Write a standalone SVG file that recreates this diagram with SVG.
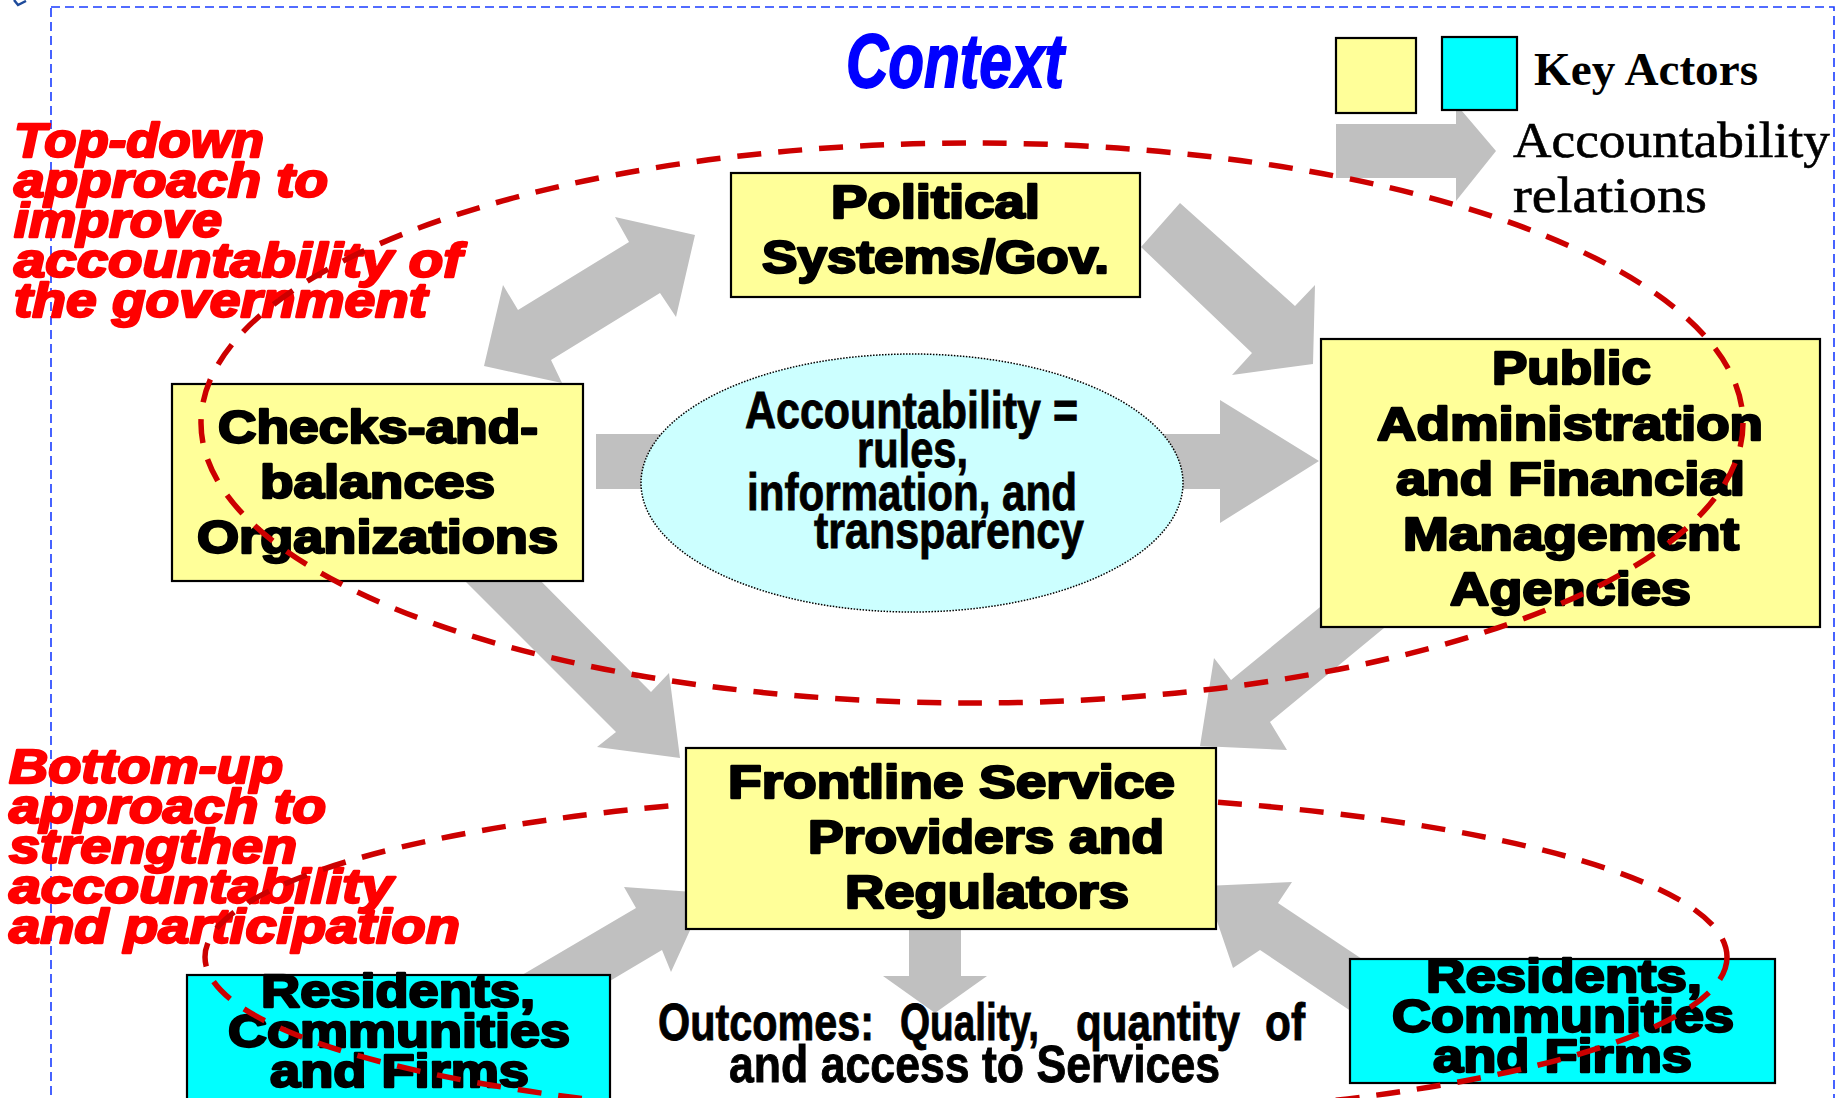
<svg xmlns="http://www.w3.org/2000/svg" width="1843" height="1098" viewBox="0 0 1843 1098">
<style>
.bg{fill:#fff}
.frame{fill:none;stroke:#1a3cff;stroke-width:1.6;stroke-dasharray:9 5}
.arrow{fill:#c0c0c0;stroke:none}
.box{stroke:#000;stroke-width:2.2}
.yel{fill:#ffff99}
.cya{fill:#00ffff}
.hv{font-family:"Liberation Sans",Arial,sans-serif;font-weight:bold;font-size:47px;fill:#000;stroke:#000;stroke-width:2.4;stroke-linejoin:round}
.rd{font-family:"Liberation Sans",Arial,sans-serif;font-weight:bold;font-style:italic;font-size:48px;fill:#ff0000;stroke:#ff0000;stroke-width:2.4;stroke-linejoin:round}
.cn{font-family:"Liberation Sans",Arial,sans-serif;font-weight:bold;font-size:52px;fill:#000;stroke:#000;stroke-width:0.9}
.sf{font-family:"Liberation Serif","Times New Roman",serif;fill:#000}
.loop{fill:none;stroke:#cc0000;stroke-width:5.5;stroke-dasharray:24 17}
</style>
<rect class="bg" x="0" y="0" width="1843" height="1098"/>
<polyline points="14,0 18,5 26,1" fill="none" stroke="#1e4b9b" stroke-width="2.5"/>
<rect class="frame" x="51" y="7" width="1783" height="1120"/>

<g id="title">
<text x="846" y="87" font-family="'Liberation Sans',Arial,sans-serif" font-weight="bold" font-style="italic" font-size="76" fill="#0000ff" stroke="#0000ff" stroke-width="1.8" textLength="218" lengthAdjust="spacingAndGlyphs">Context</text>
</g>

<g id="label-topdown">
<text class="rd" x="14" y="157" textLength="250" lengthAdjust="spacingAndGlyphs">Top-down</text>
<text class="rd" x="14" y="197" textLength="314" lengthAdjust="spacingAndGlyphs">approach to</text>
<text class="rd" x="14" y="237" textLength="208" lengthAdjust="spacingAndGlyphs">improve</text>
<text class="rd" x="14" y="277" textLength="448" lengthAdjust="spacingAndGlyphs">accountability of</text>
<text class="rd" x="14" y="317" textLength="413" lengthAdjust="spacingAndGlyphs">the government</text>
</g>

<g id="label-bottomup">
<text class="rd" x="9" y="783" textLength="274" lengthAdjust="spacingAndGlyphs">Bottom-up</text>
<text class="rd" x="9" y="823" textLength="317" lengthAdjust="spacingAndGlyphs">approach to</text>
<text class="rd" x="9" y="863" textLength="288" lengthAdjust="spacingAndGlyphs">strengthen</text>
<text class="rd" x="9" y="903" textLength="384" lengthAdjust="spacingAndGlyphs">accountability</text>
<text class="rd" x="9" y="943" textLength="451" lengthAdjust="spacingAndGlyphs">and participation</text>
</g>

<g id="connectors">
<polygon class="arrow" points="695,235 676,317 660,293 551,360 562,383 484,366 503,285 518,310 629,242 615,217"/>
<polygon class="arrow" points="1180,203 1295,306 1315,285 1313,364 1232,375 1252,353 1141,247"/>
<polygon class="arrow" points="596,434 1220,434 1220,400 1319,461 1220,523 1220,489 596,489"/>
<polygon class="arrow" points="444,560 520,560 651,692 669,673 680,758 597,747 616,732"/>
<polygon class="arrow" points="1347,585 1401,614 1270,722 1287,750 1200,746 1214,658 1231,680"/>
<polygon class="arrow" points="909,925 961,925 961,976 987,976 935,1013 883,976 909,976"/>
<polygon class="arrow" points="498,989 636,908 624,887 707,893 671,972 662,950 524,1032"/>
<polygon class="arrow" points="1407,989 1278,903 1292,882 1205,886 1233,968 1260,950 1379,1030"/>
</g>

<g id="legend">
<polygon class="arrow" points="1336,124 1456,124 1456,104 1496,151 1456,201 1456,178 1336,178"/>
<rect class="box yel" x="1336" y="38" width="80" height="75"/>
<rect class="box cya" x="1442" y="37" width="75" height="73"/>
<text class="sf" x="1534" y="85" font-size="46" font-weight="bold" textLength="224" lengthAdjust="spacingAndGlyphs">Key Actors</text>
<text class="sf" x="1513" y="157" font-size="50" stroke="#000" stroke-width="0.6" textLength="317" lengthAdjust="spacingAndGlyphs">Accountability</text>
<text class="sf" x="1513" y="212" font-size="50" stroke="#000" stroke-width="0.6" textLength="194" lengthAdjust="spacingAndGlyphs">relations</text>
</g>

<g id="accountability">
<ellipse cx="912" cy="483" rx="271" ry="129" fill="#ccffff" stroke="#000" stroke-width="1.5" stroke-dasharray="1.5 1.5"/>
<text class="cn" x="745" y="428" textLength="333" lengthAdjust="spacingAndGlyphs">Accountability =</text>
<text class="cn" x="857" y="467" textLength="111" lengthAdjust="spacingAndGlyphs">rules,</text>
<text class="cn" x="747" y="510" textLength="330" lengthAdjust="spacingAndGlyphs">information, and</text>
<text class="cn" x="814" y="548" textLength="270" lengthAdjust="spacingAndGlyphs">transparency</text>
</g>

<g id="political">
<rect class="box yel" x="731" y="173" width="409" height="124"/>
<text class="hv" x="831" y="218" textLength="209" lengthAdjust="spacingAndGlyphs">Political</text>
<text class="hv" x="762" y="273" textLength="347" lengthAdjust="spacingAndGlyphs">Systems/Gov.</text>
</g>

<g id="checks">
<rect class="box yel" x="172" y="384" width="411" height="197"/>
<text class="hv" x="218" y="443" textLength="320" lengthAdjust="spacingAndGlyphs">Checks-and-</text>
<text class="hv" x="260" y="498" textLength="235" lengthAdjust="spacingAndGlyphs">balances</text>
<text class="hv" x="197" y="553" textLength="361" lengthAdjust="spacingAndGlyphs">Organizations</text>
</g>

<g id="public">
<rect class="box yel" x="1321" y="339" width="499" height="288"/>
<text class="hv" x="1492" y="384" textLength="159" lengthAdjust="spacingAndGlyphs">Public</text>
<text class="hv" x="1377" y="440" textLength="386" lengthAdjust="spacingAndGlyphs">Administration</text>
<text class="hv" x="1396" y="495" textLength="349" lengthAdjust="spacingAndGlyphs">and Financial</text>
<text class="hv" x="1403" y="550" textLength="336" lengthAdjust="spacingAndGlyphs">Management</text>
<text class="hv" x="1450" y="605" textLength="241" lengthAdjust="spacingAndGlyphs">Agencies</text>
</g>

<g id="residents-left">
<rect class="box cya" x="187" y="975" width="423" height="130"/>
<text class="hv" x="261" y="1007" textLength="274" lengthAdjust="spacingAndGlyphs">Residents,</text>
<text class="hv" x="228" y="1047" textLength="342" lengthAdjust="spacingAndGlyphs">Communities</text>
<text class="hv" x="270" y="1087" textLength="259" lengthAdjust="spacingAndGlyphs">and Firms</text>
</g>

<g id="residents-right">
<rect class="box cya" x="1350" y="959" width="425" height="124"/>
<text class="hv" x="1426" y="992" textLength="276" lengthAdjust="spacingAndGlyphs">Residents,</text>
<text class="hv" x="1392" y="1032" textLength="342" lengthAdjust="spacingAndGlyphs">Communities</text>
<text class="hv" x="1433" y="1072" textLength="259" lengthAdjust="spacingAndGlyphs">and Firms</text>
</g>

<g id="loops">
<ellipse class="loop" cx="972" cy="423" rx="771" ry="280"/>
<ellipse class="loop" cx="966" cy="957" rx="761" ry="164"/>
</g>

<g id="frontline">
<rect class="box yel" x="686" y="748" width="530" height="181"/>
<text class="hv" x="728" y="798" textLength="447" lengthAdjust="spacingAndGlyphs">Frontline Service</text>
<text class="hv" x="808" y="853" textLength="356" lengthAdjust="spacingAndGlyphs">Providers and</text>
<text class="hv" x="845" y="908" textLength="284" lengthAdjust="spacingAndGlyphs">Regulators</text>
</g>

<g id="outcomes">
<text class="cn" font-size="55" x="658" y="1040" textLength="216" lengthAdjust="spacingAndGlyphs">Outcomes:</text>
<text class="cn" font-size="55" x="900" y="1040" textLength="139" lengthAdjust="spacingAndGlyphs">Quality,</text>
<text class="cn" font-size="55" x="1076" y="1040" textLength="164" lengthAdjust="spacingAndGlyphs">quantity</text>
<text class="cn" font-size="55" x="1265" y="1040" textLength="40" lengthAdjust="spacingAndGlyphs">of</text>
<text class="cn" font-size="55" x="729" y="1082" textLength="491" lengthAdjust="spacingAndGlyphs">and access to Services</text>
</g>
</svg>
